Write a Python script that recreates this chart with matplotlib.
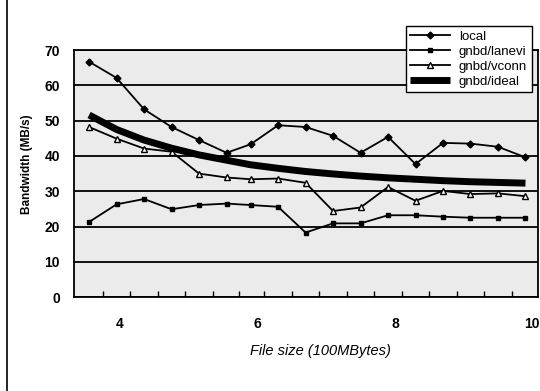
import matplotlib
matplotlib.use("Agg")
import matplotlib.pyplot as plt
from matplotlib.lines import Line2D

plt.rcParams['font.family'] = ['Liberation Sans', 'DejaVu Sans']

# file size in 100MBytes
sizes = [3.55, 3.95, 4.35, 4.75, 5.15, 5.55, 5.9, 6.3, 6.7, 7.1, 7.5, 7.9, 8.3, 8.7, 9.1, 9.5, 9.9]

local = [66.7, 62.1, 53.2, 48.2, 44.5, 40.9, 43.3, 48.7, 48.2, 45.7, 40.9, 45.4, 37.7, 43.7, 43.5, 42.6, 39.6]
lanevi = [21.3, 26.3, 27.8, 24.9, 26.1, 26.5, 26.1, 25.6, 18.3, 20.9, 20.9, 23.2, 23.2, 22.8, 22.5, 22.5, 22.5]
vconn = [48.2, 44.9, 42.1, 41.2, 35.0, 33.9, 33.4, 33.6, 32.4, 24.4, 25.4, 31.2, 27.3, 30.1, 29.2, 29.4, 28.6]
ideal = [51.6, 47.5, 44.5, 42.2, 40.3, 38.8, 37.5, 36.5, 35.6, 34.9, 34.3, 33.8, 33.4, 33.0, 32.7, 32.5, 32.3]

fig = plt.figure(figsize=(5.4, 3.91), dpi=100)
fig.set_facecolor('white')
ax = fig.add_axes([0.137, 0.240, 0.859, 0.632])
ax.set_facecolor('#ebebeb')

ax.plot(sizes, local, color='black', lw=1.3, marker='D', ms=3.5, label='local')
ax.plot(sizes, lanevi, color='black', lw=1.3, marker='s', ms=3.5, label='gnbd/lanevi')
ax.plot(sizes, vconn, color='black', lw=1.3, marker='^', ms=4, mfc='white', label='gnbd/vconn')
ax.plot(sizes, ideal, color='black', lw=5, solid_capstyle='butt', label='gnbd/ideal')

ax.set_xlim(3.33, 10.08)
ax.set_ylim(0, 70)
ax.set_yticks(range(0, 71, 10))
ax.set_xticks([4, 6, 8, 10])
ax.yaxis.grid(True, color='black', lw=1.3)
ax.set_axisbelow(True)

mids = [(a + b) / 2 for a, b in zip(sizes[:-1], sizes[1:])]
ax.set_xticks(mids, minor=True)
ax.tick_params(axis='x', which='minor', direction='in', length=4, width=1, color='black')
ax.tick_params(axis='both', which='major', length=0, labelsize=10)
ax.tick_params(axis='x', which='major', pad=14)
ax.tick_params(axis='y', which='major', pad=10)
for lab in ax.get_xticklabels() + ax.get_yticklabels():
    lab.set_fontweight('bold')

for s in ax.spines.values():
    s.set_color('black')
    s.set_linewidth(1.3)

ax.set_xlabel('File size (100MBytes)', fontsize=10.5, style='italic')
ax.xaxis.set_label_coords(0.532, -0.19)
ax.set_ylabel('Bandwidth (MB/s)', fontsize=8.5, fontweight='bold')
ax.yaxis.set_label_coords(-0.088, 0.54)

leg = ax.legend(loc='upper right', bbox_to_anchor=(0.987, 1.097), fontsize=9.5,
                frameon=True, fancybox=False, edgecolor='black', framealpha=1,
                handlelength=3.0, handletextpad=0.7, labelspacing=0.2,
                borderpad=0.35, borderaxespad=0)
leg.get_frame().set_linewidth(1)

# scan border on the left
fig.add_artist(Line2D([0.013, 0.013], [0.0, 1.0], color='black', lw=1.2))

fig.savefig('out.png', dpi=100)
